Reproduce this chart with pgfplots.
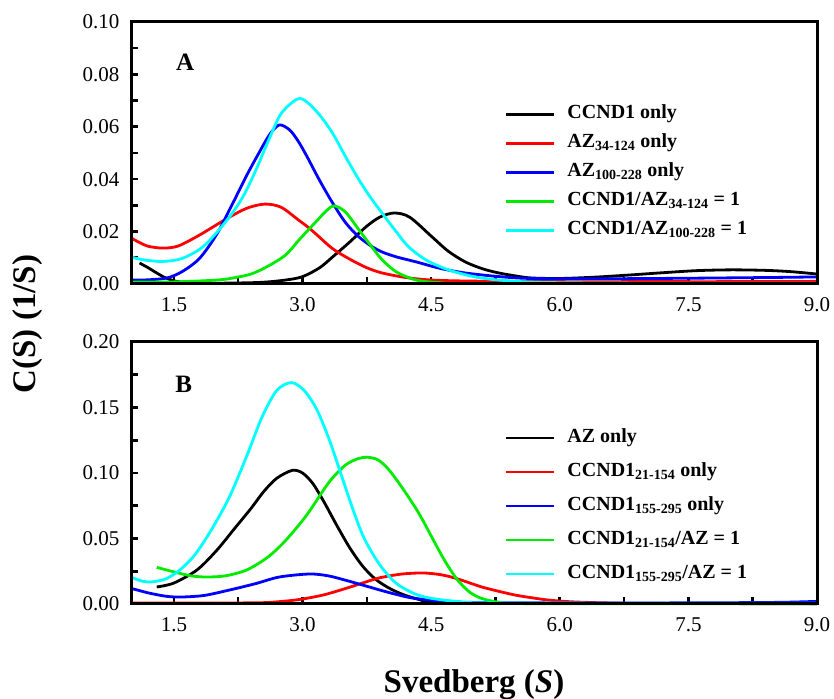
\documentclass[border=0pt]{standalone}
\usepackage{pgfplots}
\pgfplotsset{compat=1.18}
\usepackage{fontspec}
\setmainfont{Liberation Serif}

\definecolor{cRed}{RGB}{255,0,0}
\definecolor{cBlue}{RGB}{0,0,255}
\definecolor{cGreen}{RGB}{0,235,0}
\definecolor{cCyan}{RGB}{0,255,255}

\pgfplotsset{
  panel/.style={
    scale only axis, width=686pt, height=262pt,
    xmin=1, xmax=9, clip=false,
    xtick={1.5,3,4.5,6,7.5,9},
    minor xtick={2.25,3.75,5.25,6.75,8.25},
    tick pos=left, tick align=inside,
    major tick length=7pt, minor tick length=7pt,
    every tick/.append style={line width=2.6pt, black},
    axis line style={line width=3pt},
    ticklabel style={font=\fontsize{21}{25}\selectfont},
    /pgf/number format/assume math mode=true,
    xticklabel style={yshift=-10pt, /pgf/number format/.cd, fixed, fixed zerofill, precision=1},
    every axis plot/.append style={line width=2.8pt, smooth},
    legend cell align=left,
    legend image code/.code={\draw[#1, line width=2.8pt] (0pt,0pt) -- (48pt,0pt);},
  },
}

\begin{document}
\begin{tikzpicture}
\path[use as bounding box] (0pt,0pt) rectangle (834pt,698pt);

% ---- panel A
\begin{axis}[panel, at={(131pt,414pt)}, anchor=south west,
  ymin=0, ymax=0.1,
  ytick={0,0.02,...,0.1}, minor ytick={0.01,0.03,...,0.09},
  yticklabel style={xshift=-8pt, /pgf/number format/.cd, fixed, fixed zerofill, precision=2},
  legend style={at={(axis description cs:0.54,0.695)}, anchor=north west,
    draw=none, fill=none, font=\bfseries\fontsize{20}{24}\selectfont,
    row sep=9pt, nodes={text height=14pt, text depth=6pt, inner sep=0pt},
    /tikz/every odd column/.append style={column sep=12pt}},
]
\addplot[black] coordinates {(1.1,0.008)(1.2,0.0062)(1.3,0.0042)(1.4,0.0024)(1.53,0.001)(1.7,0.0005)(2.0,0.0003)(2.5,0.0006)(2.8,0.0015)(3.0,0.0028)(3.2,0.0062)(3.35,0.0103)(3.55,0.016)(3.74,0.0218)(3.9,0.0255)(4.07,0.0271)(4.25,0.0255)(4.51,0.018)(4.7,0.0125)(4.9,0.0084)(5.1,0.0058)(5.29,0.0042)(5.5,0.003)(5.67,0.0023)(6.0,0.0021)(6.4,0.0026)(6.8,0.0034)(7.2,0.0043)(7.6,0.0051)(8.0,0.0054)(8.4,0.0052)(8.7,0.0047)(9.0,0.0038)};
\addlegendentry{CCND1 only}
\addplot[cRed] coordinates {(1.0,0.0176)(1.1,0.0158)(1.2,0.0144)(1.37,0.0137)(1.55,0.0145)(1.8,0.0187)(2.12,0.025)(2.35,0.0289)(2.56,0.0305)(2.75,0.0293)(2.95,0.0245)(3.06,0.0218)(3.16,0.019)(3.35,0.0135)(3.55,0.0095)(3.75,0.0062)(3.93,0.0042)(4.2,0.0025)(4.51,0.0015)(5.0,0.0011)(6.0,0.0009)(7.0,0.0009)(8.0,0.0009)(9.0,0.001)};
\addlegendentry{AZ\textsubscript{34-124} only}
\addplot[cBlue] coordinates {(1.0,0.0015)(1.2,0.0016)(1.42,0.0023)(1.6,0.0048)(1.8,0.0098)(2.0,0.019)(2.19,0.031)(2.35,0.0415)(2.5,0.0505)(2.62,0.0572)(2.73,0.0607)(2.85,0.0588)(2.95,0.0545)(3.05,0.0488)(3.2,0.0395)(3.35,0.031)(3.5,0.0235)(3.65,0.0182)(3.8,0.0145)(3.93,0.0122)(4.1,0.0103)(4.33,0.0084)(4.6,0.006)(4.9,0.0042)(5.3,0.0028)(5.67,0.0021)(6.5,0.002)(7.5,0.0022)(8.5,0.0025)(9.0,0.0027)};
\addlegendentry{AZ\textsubscript{100-228} only}
\addplot[cGreen] coordinates {(1.0,0.0008)(1.5,0.0008)(2.0,0.0015)(2.19,0.0023)(2.4,0.0038)(2.58,0.0065)(2.8,0.011)(2.97,0.0172)(3.15,0.0235)(3.28,0.028)(3.37,0.0298)(3.5,0.0275)(3.66,0.0206)(3.8,0.0145)(3.93,0.0092)(4.1,0.0045)(4.33,0.0015)(4.6,0.0005)(5,0.0002)(9,0.0002)};
\addlegendentry{CCND1/AZ\textsubscript{34-124} = 1}
\addplot[cCyan] coordinates {(1.0,0.0103)(1.15,0.0092)(1.37,0.0086)(1.6,0.0098)(1.85,0.0145)(2.12,0.0244)(2.3,0.033)(2.45,0.043)(2.6,0.0545)(2.75,0.065)(2.94,0.0706)(3.05,0.0695)(3.2,0.0645)(3.35,0.0576)(3.5,0.0487)(3.66,0.0397)(3.8,0.0327)(3.93,0.027)(4.08,0.0205)(4.24,0.0141)(4.45,0.009)(4.71,0.0053)(5.0,0.0028)(5.29,0.0015)(5.8,0.0006)(7,0.0003)(9,0.0003)};
\addlegendentry{CCND1/AZ\textsubscript{100-228} = 1}
\draw[line width=3pt] (rel axis cs:0,0) rectangle (rel axis cs:1,1);
\node[font=\bfseries\fontsize{25}{28}\selectfont] at (axis description cs:0.079,0.847) {A};
\end{axis}

% ---- panel B
\begin{axis}[panel, at={(131pt,94pt)}, anchor=south west,
  ymin=0, ymax=0.2,
  ytick={0,0.05,...,0.2}, minor ytick={0.025,0.075,...,0.175},
  yticklabel style={xshift=-8pt, /pgf/number format/.cd, fixed, fixed zerofill, precision=2},
  legend style={at={(axis description cs:0.54,0.68)}, anchor=north west,
    draw=none, fill=none, font=\bfseries\fontsize{20}{24}\selectfont,
    row sep=14pt, nodes={text height=14pt, text depth=6pt, inner sep=0pt},
    /tikz/every odd column/.append style={column sep=12pt}},
]
\addplot[black] coordinates {(1.3,0.013)(1.5,0.016)(1.77,0.026)(2.0,0.041)(2.2,0.057)(2.4,0.073)(2.55,0.086)(2.7,0.096)(2.88,0.102)(3.0,0.1)(3.12,0.092)(3.25,0.078)(3.4,0.06)(3.55,0.043)(3.7,0.029)(3.85,0.019)(4.0,0.0125)(4.15,0.0078)(4.3,0.0045)(4.48,0.0018)(4.8,0.0005)(9,0.0003)};
\addlegendentry{AZ only}
\addplot[cRed] coordinates {(1.0,0.0008)(2.0,0.0008)(2.53,0.001)(2.8,0.0022)(3.0,0.0038)(3.25,0.007)(3.51,0.012)(3.7,0.016)(3.9,0.02)(4.15,0.0228)(4.4,0.0237)(4.6,0.0225)(4.75,0.0203)(4.9,0.0172)(5.09,0.013)(5.3,0.0095)(5.49,0.0067)(5.7,0.0045)(5.87,0.003)(6.1,0.0018)(6.45,0.001)(7,0.0005)(9,0.0003)};
\addlegendentry{CCND1\textsubscript{21-154} only}
\addplot[cBlue] coordinates {(1.0,0.012)(1.2,0.0085)(1.4,0.006)(1.57,0.0053)(1.85,0.0065)(2.15,0.0107)(2.45,0.0155)(2.73,0.0206)(3.08,0.0229)(3.3,0.0215)(3.51,0.018)(3.7,0.0145)(3.9,0.0107)(4.1,0.0072)(4.28,0.0046)(4.6,0.0022)(5,0.0012)(6,0.0008)(7,0.0008)(8,0.001)(8.6,0.0013)(9,0.002)};
\addlegendentry{CCND1\textsubscript{155-295} only}
\addplot[cGreen] coordinates {(1.3,0.028)(1.5,0.0245)(1.7,0.0215)(1.88,0.0206)(2.1,0.0215)(2.35,0.026)(2.6,0.036)(2.81,0.049)(3.05,0.068)(3.31,0.093)(3.5,0.106)(3.65,0.111)(3.76,0.112)(3.88,0.11)(4.0,0.103)(4.16,0.089)(4.35,0.07)(4.5,0.052)(4.65,0.034)(4.8,0.019)(4.95,0.009)(5.1,0.004)(5.3,0.0013)(5.6,0.0003)(9,0.0002)};
\addlegendentry{CCND1\textsubscript{21-154}/AZ = 1}
\addplot[cCyan] coordinates {(1.0,0.0206)(1.1,0.018)(1.22,0.0168)(1.4,0.019)(1.57,0.026)(1.75,0.038)(1.95,0.058)(2.15,0.082)(2.35,0.113)(2.53,0.143)(2.7,0.163)(2.87,0.169)(3.02,0.163)(3.17,0.148)(3.32,0.124)(3.47,0.095)(3.6,0.07)(3.72,0.05)(3.9,0.03)(4.09,0.016)(4.3,0.008)(4.48,0.0046)(4.8,0.002)(5.3,0.0008)(9,0.0005)};
\addlegendentry{CCND1\textsubscript{155-295}/AZ = 1}
\draw[line width=3pt] (rel axis cs:0,0) rectangle (rel axis cs:1,1);
\node[font=\bfseries\fontsize{25}{28}\selectfont] at (axis description cs:0.077,0.84) {B};
\end{axis}

\node[rotate=90, font=\bfseries\fontsize{33}{36}\selectfont] at (28pt,374pt) {C(S) (1/S)};
\node[anchor=base, font=\bfseries\fontsize{33}{36}\selectfont] at (474pt,6pt) {Svedberg (\textit{S})};
\end{tikzpicture}
\end{document}
